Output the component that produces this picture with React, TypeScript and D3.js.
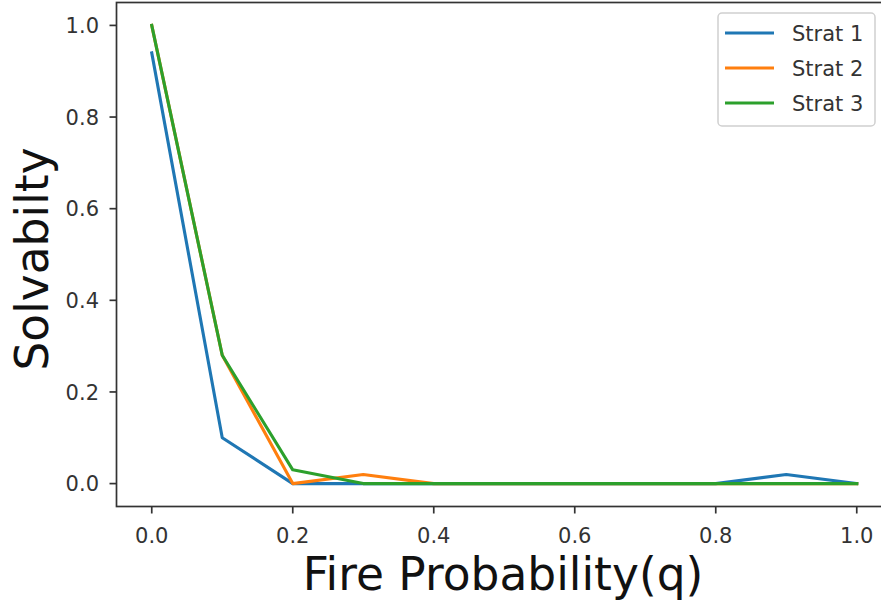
import React from "react";
import * as d3 from "d3";

const xValues = [0, 0.1, 0.2, 0.3, 0.4, 0.5, 0.6, 0.7, 0.8, 0.9, 1.0];
const strat1 = [0.94, 0.1, 0, 0, 0, 0, 0, 0, 0, 0.02, 0];
const strat2 = [1.0, 0.28, 0, 0.02, 0, 0, 0, 0, 0, 0, 0];
const strat3 = [1.0, 0.28, 0.03, 0, 0, 0, 0, 0, 0, 0, 0];
const seriesNames = ["Strat 1", "Strat 2", "Strat 3"];
const seriesColors = ["#1f77b4", "#ff7f0e", "#2ca02c"];
const xTicks = [0, 0.2, 0.4, 0.6, 0.8, 1.0];
const yTicks = [0, 0.2, 0.4, 0.6, 0.8, 1.0];
const xLabel = "Fire Probability(q)";
const yLabel = "Solvabilty";

export default function App() {
  const W = 881, H = 600;
  const left = 116.5, right = 892, top = 2.5, bottom = 506.5;
  const x = d3.scaleLinear().domain([-0.05, 1.05]).range([left, right]);
  const y = d3.scaleLinear().domain([-0.05, 1.05]).range([bottom, top]);
  const series = [strat1, strat2, strat3];
  const line = d3
    .line<number>()
    .x((_, i) => x(xValues[i]))
    .y((d) => y(d));
  const font = "DejaVu Sans, sans-serif";
  const tickColor = "#333";
  const tickFs = 21;
  const legX = 718, legY = 13, legW = 157, legH = 113;

  return (
    <svg
      width={W}
      height={H}
      style={{ position: "absolute", left: 0, top: 0, background: "#fff" }}
      fontFamily={font}
    >
      <rect x={0} y={0} width={W} height={H} fill="#fff" />
      {series.map((s, k) => (
        <path
          key={k}
          d={line(s) || ""}
          fill="none"
          stroke={seriesColors[k]}
          strokeWidth={3.1}
          strokeLinejoin="round"
          strokeLinecap="square"
        />
      ))}
      {/* spines */}
      <rect
        x={left}
        y={top}
        width={right - left}
        height={bottom - top}
        fill="none"
        stroke={tickColor}
        strokeWidth={1.7}
      />
      {/* x ticks */}
      {xTicks.map((t) => (
        <g key={"x" + t}>
          <line x1={x(t)} x2={x(t)} y1={bottom} y2={bottom + 7} stroke={tickColor} strokeWidth={1.7} />
          <text x={x(t)} y={543} textAnchor="middle" fontSize={tickFs} fill={tickColor}>
            {t.toFixed(1)}
          </text>
        </g>
      ))}
      {/* y ticks */}
      {yTicks.map((t) => (
        <g key={"y" + t}>
          <line x1={left - 7} x2={left} y1={y(t)} y2={y(t)} stroke={tickColor} strokeWidth={1.7} />
          <text x={99} y={y(t)} dy="0.36em" textAnchor="end" fontSize={tickFs} fill={tickColor}>
            {t.toFixed(1)}
          </text>
        </g>
      ))}
      <text x={503} y={590} textAnchor="middle" fontSize={45.5} fill="#111">
        {xLabel}
      </text>
      <text
        transform={`translate(48, 259) rotate(-90)`}
        textAnchor="middle"
        fontSize={45.5}
        fill="#111"
      >
        {yLabel}
      </text>
      {/* legend */}
      <rect x={legX} y={legY} width={legW} height={legH} rx={4} fill="#fff" fillOpacity={0.8} stroke="#d0d0d0" strokeWidth={1.5} />
      {seriesNames.map((n, k) => {
        const cy = 33 + k * 35;
        return (
          <g key={n}>
            <line x1={725} x2={774} y1={cy} y2={cy} stroke={seriesColors[k]} strokeWidth={3.1} />
            <text x={792} y={cy} dy="0.36em" fontSize={tickFs} fill={tickColor}>
              {n}
            </text>
          </g>
        );
      })}
    </svg>
  );
}
